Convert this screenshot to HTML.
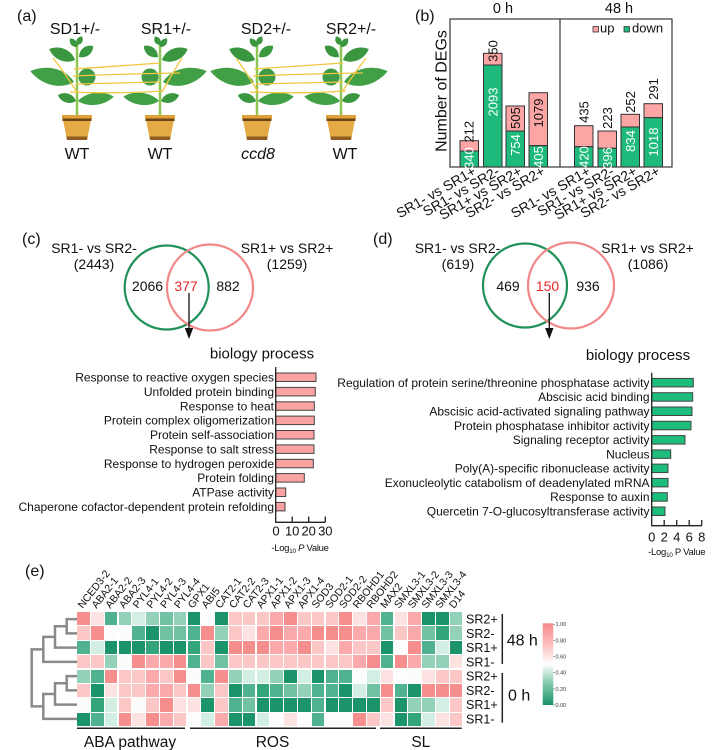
<!DOCTYPE html>
<html><head><meta charset="utf-8">
<style>
html,body{margin:0;padding:0;background:#fff;}
#w{position:relative;width:716px;height:750px;overflow:hidden;background:#fff;}
svg{position:absolute;left:0;top:0;}
#hm{position:absolute;left:77.3px;top:612px;width:385px;height:114px;display:grid;grid-template-columns:repeat(28,1fr);grid-template-rows:repeat(8,1fr);gap:1.2px;background:#fff;}
#hm i{display:block;}
.a{background:#1a9468}.b{background:#34a57b}.c{background:#4fb390}.d{background:#70c2a3}.e{background:#93d2b8}.f{background:#d3eee3}.w{background:#fbfcfb}.p{background:#fde2e2}.q{background:#fcc7c7}.r{background:#faaaaa}.s{background:#f68e8e}
</style></head><body><div id="w">
<svg width="716" height="750" viewBox="0 0 716 750" font-family="'Liberation Sans', Arial, sans-serif" fill="#111">
<defs>
<g id="pl">
 <path d="M0,0 L0,-72" stroke="#8dc653" stroke-width="2.5" fill="none"/>
 <circle cx="10" cy="-38" r="8.5" fill="#3f9a45"/>
 <g fill="#3a963f">
 <path transform="translate(-3,-33) rotate(194)" d="M0,0 C11,-11 31,-11 45,0 C31,11 11,11 0,0Z" fill="#41a045"/>
 <path transform="translate(-2,-55) rotate(203)" d="M0,0 C7,-8 20,-8 28,0 C20,8 7,8 0,0Z"/>
 <path transform="translate(2,-58) rotate(-38)" d="M0,0 C5,-6 13,-6 18,0 C13,6 5,6 0,0Z"/>
 <path transform="translate(0,-68) rotate(230)" d="M0,0 C3,-4 8,-4 11,0 C8,4 3,4 0,0Z"/>
 <path transform="translate(0,-70) rotate(-60)" d="M0,0 C3,-4 7,-4 10,0 C7,4 3,4 0,0Z"/>
 <path transform="translate(-1,-14) rotate(198)" d="M0,0 C5,-6 14,-6 19,0 C14,6 5,6 0,0Z"/>
 <path transform="translate(1,-14) rotate(-7)" d="M0,0 C9,-8 26,-8 36,0 C26,8 9,8 0,0Z" fill="#41a045"/>
 </g>
 <path d="M-14,5 L14,5 L10,25 L-10,25Z" fill="#e4aa45"/>
 <rect x="-15" y="0" width="30" height="4" fill="#dfa23a"/>
 <rect x="-14.5" y="3.5" width="29" height="2.5" fill="#6d4416"/>
 <path d="M-10.6,21.5 L10.6,21.5 L10,25 L-10,25Z" fill="#8d5d22"/>
</g>
</defs>

<!-- (a) -->
<text x="17" y="21" font-size="16">(a)</text>
<g font-size="16" text-anchor="middle">
<text x="75" y="34">SD1+/-</text><text x="166" y="34">SR1+/-</text>
<text x="266" y="34">SD2+/-</text><text x="351" y="34">SR2+/-</text>
<text x="77" y="159">WT</text><text x="160" y="159">WT</text>
<text x="258" y="159" font-style="italic">ccd8</text><text x="345" y="159">WT</text>
</g>
<use href="#pl" transform="translate(77,115)"/>
<use href="#pl" transform="translate(160,115) scale(-1,1)"/>
<use href="#pl" transform="translate(257,115)"/>
<use href="#pl" transform="translate(341,115) scale(-1,1)"/>
<g stroke="#f3c640" stroke-width="1.3" fill="none">
<path d="M74,69 Q120,66 160,63"/><path d="M73,76 Q118,74 180,73"/><path d="M76,84 Q120,83 160,82"/><path d="M70,92 Q120,94 163,91"/>
<path d="M53,58 Q64,72 77,92"/><path d="M182,58 Q172,74 162,92"/>
<path d="M254,69 Q300,66 343,63"/><path d="M253,76 Q298,74 363,73"/><path d="M256,84 Q300,83 343,82"/><path d="M250,92 Q300,94 346,91"/>
<path d="M236,58 Q246,72 258,92"/><path d="M366,58 Q354,74 342,92"/>
</g>

<!-- (b) -->
<text x="415" y="21" font-size="16">(b)</text>
<text x="503" y="13" font-size="14.5" text-anchor="middle">0 h</text>
<text x="619" y="13" font-size="14.5" text-anchor="middle">48 h</text>
<text transform="translate(441,91) rotate(-90)" font-size="16" text-anchor="middle" dy="0.35em">Number of DEGs</text>
<g stroke="#333" stroke-width="1">
<rect x="460" y="140.7" width="18.5" height="10.3" fill="#fba5a5"/><rect x="460" y="151" width="18.5" height="16" fill="#1dba7b"/>
<rect x="483.5" y="53.3" width="18.5" height="11.7" fill="#fba5a5"/><rect x="483.5" y="65" width="18.5" height="102" fill="#1dba7b"/>
<rect x="506" y="106" width="18.5" height="25" fill="#fba5a5"/><rect x="506" y="131" width="18.5" height="36" fill="#1dba7b"/>
<rect x="529" y="92.7" width="18.5" height="53" fill="#fba5a5"/><rect x="529" y="145.7" width="18.5" height="21.3" fill="#1dba7b"/>
<rect x="574.5" y="125.7" width="18.5" height="21" fill="#fba5a5"/><rect x="574.5" y="146.7" width="18.5" height="20.3" fill="#1dba7b"/>
<rect x="598" y="131" width="18.5" height="17.3" fill="#fba5a5"/><rect x="598" y="148.3" width="18.5" height="18.7" fill="#1dba7b"/>
<rect x="621" y="114.3" width="18.5" height="12.7" fill="#fba5a5"/><rect x="621" y="127" width="18.5" height="40" fill="#1dba7b"/>
<rect x="644" y="103.7" width="18.5" height="14" fill="#fba5a5"/><rect x="644" y="117.7" width="18.5" height="49.3" fill="#1dba7b"/>
</g>
<rect x="450" y="19" width="222" height="148" fill="none" stroke="#444" stroke-width="1.3"/>
<line x1="560" y1="19" x2="560" y2="167" stroke="#444" stroke-width="1.3"/>
<g font-size="13" text-anchor="middle">
<text transform="translate(469,131.7) rotate(-90)" dy="0.35em">212</text>
<text transform="translate(492.7,51) rotate(-90)" dy="0.35em">350</text>
<text transform="translate(515.2,118) rotate(-90)" dy="0.35em">505</text>
<text transform="translate(538.2,113) rotate(-90)" dy="0.35em">1079</text>
<text transform="translate(583.7,112) rotate(-90)" dy="0.35em">435</text>
<text transform="translate(607.2,118) rotate(-90)" dy="0.35em">223</text>
<text transform="translate(630.2,102) rotate(-90)" dy="0.35em">252</text>
<text transform="translate(653.2,89) rotate(-90)" dy="0.35em">291</text>
<g fill="#fff">
<text transform="translate(469,158) rotate(-90)" dy="0.35em">340</text>
<text transform="translate(492.7,102) rotate(-90)" dy="0.35em">2093</text>
<text transform="translate(515.2,145) rotate(-90)" dy="0.35em">754</text>
<text transform="translate(538.2,157) rotate(-90)" dy="0.35em">405</text>
<text transform="translate(583.7,157) rotate(-90)" dy="0.35em">420</text>
<text transform="translate(607.2,158) rotate(-90)" dy="0.35em">396</text>
<text transform="translate(630.2,141) rotate(-90)" dy="0.35em">834</text>
<text transform="translate(653.2,142) rotate(-90)" dy="0.35em">1018</text>
</g></g>
<rect x="593" y="26.5" width="5.5" height="5.5" fill="#fba5a5" stroke="#333" stroke-width="0.8"/>
<text x="600" y="32.5" font-size="13">up</text>
<rect x="624" y="26.5" width="5.5" height="5.5" fill="#1dba7b" stroke="#333" stroke-width="0.8"/>
<text x="632" y="32.5" font-size="13">down</text>
<g font-size="14" text-anchor="end">
<text transform="translate(477,174) rotate(-30)">SR1- vs SR1+</text>
<text transform="translate(500.5,174) rotate(-30)">SR1- vs SR2-</text>
<text transform="translate(523,174) rotate(-30)">SR1+ vs SR2+</text>
<text transform="translate(546,174) rotate(-30)">SR2- vs SR2+</text>
<text transform="translate(591.5,174) rotate(-30)">SR1- vs SR1+</text>
<text transform="translate(615,174) rotate(-30)">SR1- vs SR2-</text>
<text transform="translate(638,174) rotate(-30)">SR1+ vs SR2+</text>
<text transform="translate(661,174) rotate(-30)">SR2- vs SR2+</text>
</g>

<!-- (c) -->
<text x="22" y="244" font-size="16">(c)</text>
<circle cx="166.7" cy="287.5" r="42" fill="none" stroke="#21915a" stroke-width="2.2"/>
<circle cx="210" cy="287.5" r="43" fill="none" stroke="#f28787" stroke-width="2.2"/>
<g font-size="14" text-anchor="middle">
<text x="94" y="253">SR1- vs SR2-</text><text x="94" y="269">(2443)</text>
<text x="287" y="253">SR1+ vs SR2+</text><text x="287" y="269">(1259)</text>
<text x="147.5" y="291">2066</text><text x="186" y="291" fill="#e8262a">377</text><text x="228" y="291">882</text>
</g>
<line x1="189" y1="293" x2="189" y2="330" stroke="#111" stroke-width="1.3"/>
<path d="M184.8,328 L193.2,328 L189,339Z" fill="#111"/>
<text x="262" y="358.5" font-size="15" text-anchor="middle">biology process</text>
<g stroke="#444" stroke-width="1" fill="#fba3a3">
<rect x="275.7" y="373" width="40.3" height="8.5"/>
<rect x="275.7" y="387.4" width="39.6" height="8.5"/>
<rect x="275.7" y="401.8" width="38.6" height="8.5"/>
<rect x="275.7" y="416.1" width="38.6" height="8.5"/>
<rect x="275.7" y="430.5" width="38.3" height="8.5"/>
<rect x="275.7" y="444.9" width="38.3" height="8.5"/>
<rect x="275.7" y="459.3" width="37.6" height="8.5"/>
<rect x="275.7" y="473.6" width="28.6" height="8.5"/>
<rect x="275.7" y="488" width="10" height="8.5"/>
<rect x="275.7" y="502.4" width="9.3" height="8.5"/>
</g>
<g stroke="#222" stroke-width="1.3" fill="none">
<path d="M275.7,367 L275.7,522.3 L325.3,522.3"/>
<path d="M292.2,516.5 V522.3 M308.7,516.5 V522.3 M325.3,516.5 V522.3"/>
</g>
<g font-size="12" text-anchor="end">
<text x="274" y="381.5">Response to reactive oxygen species</text>
<text x="274" y="395.9">Unfolded protein binding</text>
<text x="274" y="410.3">Response to heat</text>
<text x="274" y="424.6">Protein complex oligomerization</text>
<text x="274" y="439">Protein self-association</text>
<text x="274" y="453.4">Response to salt stress</text>
<text x="274" y="467.8">Response to hydrogen peroxide</text>
<text x="274" y="482.1">Protein folding</text>
<text x="274" y="496.5">ATPase activity</text>
<text x="274" y="510.9">Chaperone cofactor-dependent protein refolding</text>
</g>
<g font-size="13" text-anchor="middle">
<text x="276" y="535.7">0</text><text x="292.2" y="535.7">10</text><text x="308.7" y="535.7">20</text><text x="325.3" y="535.7">30</text>
</g>
<text x="300" y="551" font-size="9.5" text-anchor="middle" letter-spacing="-0.3">-Log<tspan font-size="6.5" dy="2">10</tspan><tspan dy="-2" font-style="italic"> P</tspan> Value</text>

<!-- (d) -->
<text x="373" y="244" font-size="16">(d)</text>
<circle cx="525" cy="285.5" r="42" fill="none" stroke="#21915a" stroke-width="2.2"/>
<circle cx="571" cy="285.5" r="43" fill="none" stroke="#f28787" stroke-width="2.2"/>
<g font-size="14" text-anchor="middle">
<text x="457.5" y="253">SR1- vs SR2-</text><text x="458" y="269">(619)</text>
<text x="647.5" y="253">SR1+ vs SR2+</text><text x="648" y="269">(1086)</text>
<text x="508" y="291">469</text><text x="547.5" y="291" fill="#e8262a">150</text><text x="588" y="291">936</text>
</g>
<line x1="549.3" y1="293" x2="549.3" y2="330" stroke="#111" stroke-width="1.3"/>
<path d="M545.1,328 L553.5,328 L549.3,339Z" fill="#111"/>
<text x="638" y="360" font-size="15" text-anchor="middle">biology process</text>
<g stroke="#444" stroke-width="1" fill="#1dbd7b">
<rect x="651.7" y="378.4" width="41.6" height="8.5"/>
<rect x="651.7" y="392.7" width="41" height="8.5"/>
<rect x="651.7" y="407" width="40.3" height="8.5"/>
<rect x="651.7" y="421.3" width="39.3" height="8.5"/>
<rect x="651.7" y="435.6" width="33.3" height="8.5"/>
<rect x="651.7" y="449.9" width="19" height="8.5"/>
<rect x="651.7" y="464.1" width="16.3" height="8.5"/>
<rect x="651.7" y="478.4" width="16.3" height="8.5"/>
<rect x="651.7" y="492.7" width="15.6" height="8.5"/>
<rect x="651.7" y="507" width="13.3" height="8.5"/>
</g>
<g stroke="#222" stroke-width="1.3" fill="none">
<path d="M651.7,372.7 L651.7,525.7 L701.7,525.7"/>
<path d="M664.2,520 V525.7 M676.7,520 V525.7 M689.2,520 V525.7 M701.7,520 V525.7"/>
</g>
<g font-size="12" text-anchor="end">
<text x="649.5" y="386.9">Regulation of protein serine/threonine phosphatase activity</text>
<text x="649.5" y="401.2">Abscisic acid binding</text>
<text x="649.5" y="415.5">Abscisic acid-activated signaling pathway</text>
<text x="649.5" y="429.8">Protein phosphatase inhibitor activity</text>
<text x="649.5" y="444.1">Signaling receptor activity</text>
<text x="649.5" y="458.4">Nucleus</text>
<text x="649.5" y="472.6">Poly(A)-specific ribonuclease activity</text>
<text x="649.5" y="486.9">Exonucleolytic catabolism of deadenylated mRNA</text>
<text x="649.5" y="501.2">Response to auxin</text>
<text x="649.5" y="515.5">Quercetin 7-O-glucosyltransferase activity</text>
</g>
<g font-size="13" text-anchor="middle">
<text x="651.7" y="541.4">0</text><text x="664.2" y="541.4">2</text><text x="676.7" y="541.4">4</text><text x="689.2" y="541.4">6</text><text x="701.7" y="541.4">8</text>
</g>
<text x="676.7" y="555" font-size="9.5" text-anchor="middle" letter-spacing="-0.3">-Log<tspan font-size="6.5" dy="2">10</tspan><tspan dy="-2"> P</tspan> Value</text>

<!-- (e) -->
<text x="25" y="576" font-size="16">(e)</text>
<g font-size="10.5">
<text transform="translate(82.7,609) rotate(-52)">NCED3-2</text>
<text transform="translate(96.5,609) rotate(-52)">ABA2-1</text>
<text transform="translate(110.2,609) rotate(-52)">ABA2-2</text>
<text transform="translate(124,609) rotate(-52)">ABA2-3</text>
<text transform="translate(137.7,609) rotate(-52)">PYL4-1</text>
<text transform="translate(151.5,609) rotate(-52)">PYL4-2</text>
<text transform="translate(165.2,609) rotate(-52)">PYL4-3</text>
<text transform="translate(179,609) rotate(-52)">PYL4-4</text>
<text transform="translate(192.7,609) rotate(-52)">GPX1</text>
<text transform="translate(206.5,609) rotate(-52)">ABI5</text>
<text transform="translate(220.2,609) rotate(-52)">CAT2-1</text>
<text transform="translate(234,609) rotate(-52)">CAT2-2</text>
<text transform="translate(247.7,609) rotate(-52)">CAT2-3</text>
<text transform="translate(261.5,609) rotate(-52)">APX1-1</text>
<text transform="translate(275.2,609) rotate(-52)">APX1-2</text>
<text transform="translate(289,609) rotate(-52)">APX1-3</text>
<text transform="translate(302.7,609) rotate(-52)">APX1-4</text>
<text transform="translate(316.5,609) rotate(-52)">SOD3</text>
<text transform="translate(330.2,609) rotate(-52)">SOD2-1</text>
<text transform="translate(344,609) rotate(-52)">SOD2-2</text>
<text transform="translate(357.7,609) rotate(-52)">RBOHD1</text>
<text transform="translate(371.5,609) rotate(-52)">RBOHD2</text>
<text transform="translate(385.2,609) rotate(-52)">MAX2</text>
<text transform="translate(399,609) rotate(-52)">SMXL3-1</text>
<text transform="translate(412.7,609) rotate(-52)">SMXL3-2</text>
<text transform="translate(426.5,609) rotate(-52)">SMXL3-3</text>
<text transform="translate(440.2,609) rotate(-52)">SMXL3-4</text>
<text transform="translate(454,609) rotate(-52)">D14</text>
</g>
<g stroke="#8a8a8a" stroke-width="2.5" fill="none">
<path d="M77.3,619.1 H66.7 V633.4 H77.3"/>
<path d="M66.7,626.2 H55 V647.6 H77.3"/>
<path d="M55,636.9 H43.3 V661.9 H77.3"/>
<path d="M77.3,676.1 H66.7 V690.4 H77.3"/>
<path d="M66.7,683.3 H55 V704.6 H77.3"/>
<path d="M55,694 H43.3 V718.9 H77.3"/>
<path d="M43.3,649.4 H31.7 V706.4 H43.3"/>
</g>
<g font-size="12.5">
<text x="466" y="623.5">SR2+</text><text x="466" y="637.8">SR2-</text><text x="466" y="652">SR1+</text><text x="466" y="666.3">SR1-</text>
<text x="466" y="680.5">SR2+</text><text x="466" y="694.8">SR2-</text><text x="466" y="709">SR1+</text><text x="466" y="723.3">SR1-</text>
</g>
<g stroke="#222" stroke-width="1.5">
<line x1="502.3" y1="614" x2="502.3" y2="664"/><line x1="502.3" y1="673" x2="502.3" y2="722.7"/>
<line x1="77" y1="728.3" x2="185" y2="728.3"/><line x1="190" y1="728.3" x2="376" y2="728.3"/><line x1="380" y1="728.3" x2="461.7" y2="728.3"/>
</g>
<text x="506.7" y="645.7" font-size="16">48 h</text>
<text x="508" y="700.7" font-size="16">0 h</text>
<g font-size="15.5" text-anchor="middle">
<text x="130" y="747">ABA pathway</text><text x="272.5" y="747">ROS</text><text x="420.8" y="747">SL</text>
</g>
<defs><linearGradient id="cb" x1="0" y1="0" x2="0" y2="1">
<stop offset="0" stop-color="#f58a8a"/><stop offset="0.25" stop-color="#fbbcbc"/><stop offset="0.5" stop-color="#ffffff"/><stop offset="0.75" stop-color="#7cc6a8"/><stop offset="1" stop-color="#18946a"/>
</linearGradient></defs>
<rect x="542.7" y="623.3" width="10.6" height="81.7" fill="url(#cb)"/>
<g stroke="#666" stroke-width="0.6">
<line x1="553.3" y1="624.3" x2="555" y2="624.3"/><line x1="553.3" y1="640.4" x2="555" y2="640.4"/><line x1="553.3" y1="656.6" x2="555" y2="656.6"/>
<line x1="553.3" y1="672.7" x2="555" y2="672.7"/><line x1="553.3" y1="688.9" x2="555" y2="688.9"/><line x1="553.3" y1="705" x2="555" y2="705"/>
</g>
<g font-size="5.5" fill="#333">
<text x="555.5" y="626.2">1.00</text><text x="555.5" y="642.3">0.80</text><text x="555.5" y="658.5">0.60</text>
<text x="555.5" y="674.6">0.40</text><text x="555.5" y="690.8">0.20</text><text x="555.5" y="706.9">0.00</text>
</g>
</svg>
<div id="hm">
<i class="s"></i><i class="p"></i><i class="c"></i><i class="e"></i><i class="f"></i><i class="e"></i><i class="d"></i><i class="e"></i><i class="a"></i><i class="w"></i><i class="a"></i><i class="q"></i><i class="q"></i><i class="q"></i><i class="r"></i><i class="s"></i><i class="q"></i><i class="q"></i><i class="q"></i><i class="s"></i><i class="p"></i><i class="r"></i><i class="c"></i><i class="p"></i><i class="r"></i><i class="a"></i><i class="a"></i><i class="e"></i>
<i class="q"></i><i class="s"></i><i class="w"></i><i class="w"></i><i class="c"></i><i class="a"></i><i class="d"></i><i class="d"></i><i class="c"></i><i class="s"></i><i class="e"></i><i class="q"></i><i class="p"></i><i class="r"></i><i class="s"></i><i class="r"></i><i class="r"></i><i class="s"></i><i class="s"></i><i class="s"></i><i class="r"></i><i class="r"></i><i class="d"></i><i class="q"></i><i class="r"></i><i class="d"></i><i class="b"></i><i class="e"></i>
<i class="c"></i><i class="f"></i><i class="a"></i><i class="a"></i><i class="a"></i><i class="b"></i><i class="a"></i><i class="a"></i><i class="b"></i><i class="q"></i><i class="a"></i><i class="s"></i><i class="s"></i><i class="s"></i><i class="r"></i><i class="r"></i><i class="s"></i><i class="q"></i><i class="p"></i><i class="r"></i><i class="q"></i><i class="q"></i><i class="a"></i><i class="w"></i><i class="s"></i><i class="c"></i><i class="f"></i><i class="a"></i>
<i class="q"></i><i class="q"></i><i class="e"></i><i class="w"></i><i class="s"></i><i class="r"></i><i class="r"></i><i class="s"></i><i class="c"></i><i class="q"></i><i class="d"></i><i class="q"></i><i class="q"></i><i class="q"></i><i class="q"></i><i class="q"></i><i class="q"></i><i class="q"></i><i class="q"></i><i class="q"></i><i class="r"></i><i class="s"></i><i class="c"></i><i class="s"></i><i class="r"></i><i class="e"></i><i class="e"></i><i class="p"></i>
<i class="e"></i><i class="c"></i><i class="s"></i><i class="q"></i><i class="q"></i><i class="r"></i><i class="q"></i><i class="s"></i><i class="w"></i><i class="c"></i><i class="s"></i><i class="e"></i><i class="f"></i><i class="f"></i><i class="e"></i><i class="a"></i><i class="f"></i><i class="a"></i><i class="c"></i><i class="c"></i><i class="w"></i><i class="f"></i><i class="p"></i><i class="w"></i><i class="w"></i><i class="p"></i><i class="q"></i><i class="q"></i>
<i class="q"></i><i class="a"></i><i class="p"></i><i class="q"></i><i class="q"></i><i class="r"></i><i class="r"></i><i class="q"></i><i class="s"></i><i class="e"></i><i class="q"></i><i class="a"></i><i class="c"></i><i class="b"></i><i class="c"></i><i class="d"></i><i class="e"></i><i class="c"></i><i class="c"></i><i class="a"></i><i class="f"></i><i class="d"></i><i class="s"></i><i class="c"></i><i class="a"></i><i class="s"></i><i class="s"></i><i class="s"></i>
<i class="w"></i><i class="b"></i><i class="f"></i><i class="q"></i><i class="w"></i><i class="q"></i><i class="s"></i><i class="p"></i><i class="p"></i><i class="a"></i><i class="q"></i><i class="c"></i><i class="d"></i><i class="a"></i><i class="a"></i><i class="a"></i><i class="a"></i><i class="c"></i><i class="a"></i><i class="a"></i><i class="a"></i><i class="a"></i><i class="q"></i><i class="a"></i><i class="e"></i><i class="e"></i><i class="f"></i><i class="q"></i>
<i class="a"></i><i class="c"></i><i class="f"></i><i class="s"></i><i class="p"></i><i class="s"></i><i class="r"></i><i class="q"></i><i class="w"></i><i class="f"></i><i class="r"></i><i class="a"></i><i class="a"></i><i class="f"></i><i class="w"></i><i class="p"></i><i class="w"></i><i class="c"></i><i class="w"></i><i class="w"></i><i class="s"></i><i class="q"></i><i class="p"></i><i class="a"></i><i class="b"></i><i class="f"></i><i class="p"></i><i class="q"></i>
</div>
</div></body></html>
